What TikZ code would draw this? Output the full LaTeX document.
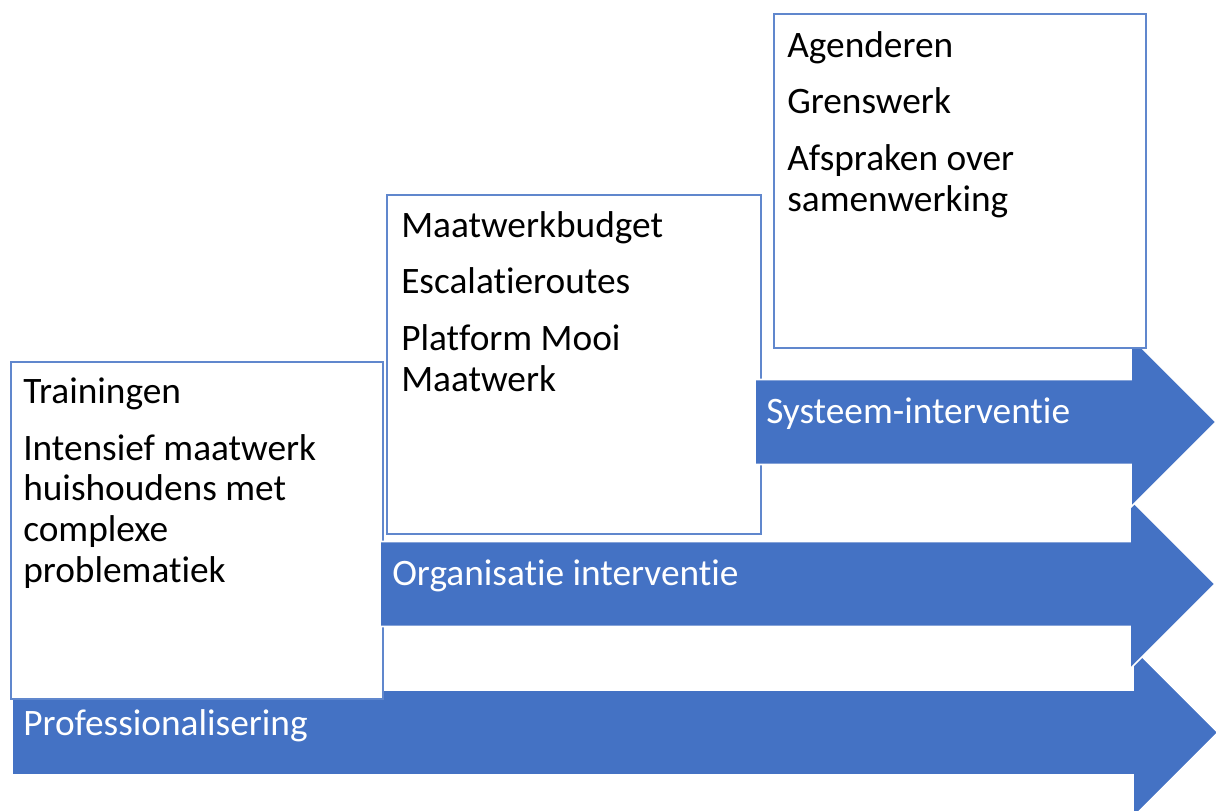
\documentclass[tikz,border=0pt]{standalone}
\usepackage{fontspec}
\setmainfont{Carlito}[Ligatures=NoCommon]
\definecolor{stageblue}{HTML}{4472C4}

\begin{document}
\begin{tikzpicture}[x=0.75pt,y=-0.75pt,
  every node/.style={font=\fontsize{28pt}{30.4pt}\selectfont,inner sep=0pt,anchor=base west,align=left},
  itembox/.style={draw=stageblue!85!white,line width=1.5pt,fill=white},
  stagearrow/.style={fill=stageblue,draw=white,line width=1.2pt},
  stagelabel/.style={text=white}]
  \useasboundingbox (0,0) rectangle (1216,810);
  \clip (0,0) rectangle (1216,810);
  % #1 left x, #2 middle y, #3 x where the head starts
  \newcommand{\levelarrow}[3]{%
    \filldraw[stagearrow] (#1,#2-42.5) -- (#3,#2-42.5) -- (#3,#2-85) -- (#3+85,#2)
      -- (#3,#2+85) -- (#3,#2+42.5) -- (#1,#2+42.5) -- cycle;}

  % professionalisering
  \levelarrow{12}{732.5}{1133}
  \node[stagelabel] (prof) at (23,735) {Professionalisering};
  \draw[itembox] (11,362) rectangle (383,699);
  % anchored at the baseline of the last line
  \node (trainingen) at (23,582) {Trainingen\\[12pt]Intensief maatwerk\\huishoudens met\\complexe\\problematiek};

  % organisatie
  \levelarrow{380}{584}{1130}
  \node[stagelabel] (org) at (392,585) {Organisatie interventie};
  \draw[itembox] (387,195) rectangle (761,534);
  \node (budget) at (401,391) {Maatwerkbudget\\[12pt]Escalatieroutes\\[12pt]Platform Mooi\\Maatwerk};

  % systeem
  \levelarrow{755}{422}{1131}
  \node[stagelabel] (sys) at (766,423) {Systeem-interventie};
  \draw[itembox] (774,14) rectangle (1146,348);
  \node (agenderen) at (787,211) {Agenderen\\[12pt]Grenswerk\\[12pt]Afspraken over\\samenwerking};
\end{tikzpicture}
\end{document}
